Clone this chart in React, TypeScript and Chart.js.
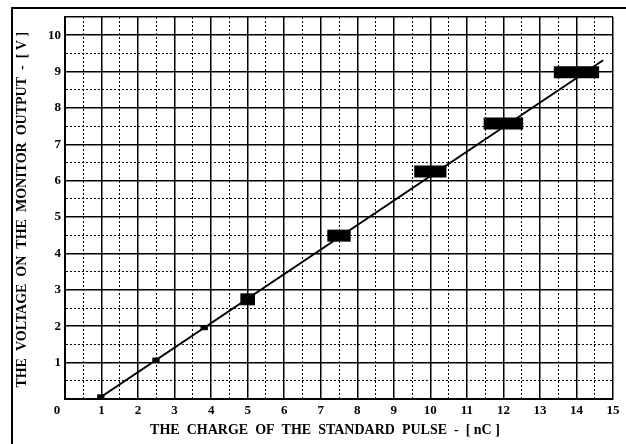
import React, { useEffect, useRef } from "react";
import { Chart, registerables } from "chart.js";

Chart.register(...registerables);

// Fitted calibration line (charge nC -> voltage V)
const fitX = [0.9, 14.73];
const fitY = [0, 9.31];

// Measured points drawn as black bars (centre, half-width in nC)
const barX = [5.0, 7.5, 10.0, 12.0, 14.0];
const barY = [2.74, 4.49, 6.25, 7.57, 8.98];
const barHalfW = [0.2, 0.32, 0.44, 0.54, 0.62];

// Small measured markers on the line
const dotX = [0.98, 2.49, 3.81];
const dotY = [0.06, 1.07, 1.96];
const dotHalfW = [0.1, 0.1, 0.1];

const xTickLabels = ["0", "1", "2", "3", "4", "5", "6", "7", "8", "9", "10", "11", "12", "13", "14", "15"];
const yTickLabels = ["", "1", "2", "3", "4", "5", "6", "7", "8", "9", "10"];

const xTitle = "THE  CHARGE  OF  THE  STANDARD  PULSE  -  [ nC ]";
const yTitle = "THE  VOLTAGE  ON  THE  MONITOR  OUTPUT  -  [ V ]";

const FONT = "'Liberation Serif', 'Times New Roman', serif";
const PAD = "\u00a0";

export default function App() {
  const ref = useRef<HTMLCanvasElement | null>(null);

  useEffect(() => {
    if (!ref.current) return;
    const segs = (xs: number[], ys: number[], hw: number[], width: number) =>
      xs.map((x, i) => ({
        data: [
          { x: x - hw[i], y: ys[i] },
          { x: x + hw[i], y: ys[i] },
        ],
        borderColor: "#000",
        backgroundColor: "#000",
        borderWidth: width,
        borderCapStyle: "butt" as const,
        pointRadius: 0,
        showLine: true,
        tension: 0,
      }));

    const isSolid = (v: number, max: number) => Number.isInteger(v) || v === max;

    const chart = new Chart(ref.current, {
      type: "scatter",
      data: {
        datasets: [
          {
            data: fitX.map((x, i) => ({ x, y: fitY[i] })),
            borderColor: "#000",
            borderWidth: 2,
            pointRadius: 0,
            showLine: true,
            tension: 0,
          },
          ...segs(barX, barY, barHalfW, 12),
          ...segs(dotX, dotY, dotHalfW, 5),
        ],
      },
      options: {
        animation: false,
        responsive: true,
        maintainAspectRatio: false,
        layout: { padding: { left: 0, top: 17, right: 13, bottom: 0 } },
        plugins: { legend: { display: false }, tooltip: { enabled: false } },
        scales: {
          x: {
            type: "linear",
            min: 0,
            max: 15,
            afterFit: (s: any) => {
              s.height = 45;
            },
            ticks: {
              stepSize: 0.5,
              autoSkip: false,
              maxRotation: 0,
              padding: 4,
              color: "#000",
              font: { family: FONT, size: 13, weight: "bold" },
              callback: (v: any) => {
                if (!Number.isInteger(v)) return "";
                const l = xTickLabels[v] ?? "";
                return v === 0 ? l + PAD.repeat(5) : l;
              },
            },
            grid: {
              drawTicks: false,
              color: "#000",
              lineWidth: (c: any) => (c.tick && isSolid(c.tick.value, 15) ? 1.5 : 1),
            },
            border: {
              display: true,
              color: "#000",
              width: 2,
              dash: (c: any) => (c.tick && !isSolid(c.tick.value, 15) ? [2, 2] : []),
            },
            title: {
              display: true,
              text: xTitle + PAD.repeat(8),
              color: "#000",
              font: { family: FONT, size: 14, weight: "bold" },
              padding: { top: 0, bottom: 5 },
            },
          },
          y: {
            type: "linear",
            min: 0,
            max: 10.5,
            afterFit: (s: any) => {
              s.width = 65;
            },
            ticks: {
              stepSize: 0.5,
              autoSkip: false,
              padding: 4,
              color: "#000",
              font: { family: FONT, size: 13, weight: "bold" },
              callback: (v: any) => (Number.isInteger(v) ? yTickLabels[v] ?? "" : ""),
            },
            grid: {
              drawTicks: false,
              color: "#000",
              lineWidth: (c: any) => (c.tick && isSolid(c.tick.value, 10.5) ? 1.5 : 1),
            },
            border: {
              display: true,
              color: "#000",
              width: 2,
              dash: (c: any) => (c.tick && !isSolid(c.tick.value, 10.5) ? [2, 2] : []),
            },
            title: {
              display: true,
              text: yTitle + PAD,
              color: "#000",
              font: { family: FONT, size: 14, weight: "bold" },
              padding: { top: 14, bottom: 0 },
            },
          },
        },
      },
    });
    return () => chart.destroy();
  }, []);

  return (
    <div style={{ position: "absolute", left: 0, top: 0, width: 626, height: 444, background: "#fff" }}>
      <canvas ref={ref} />
      <div
        style={{
          position: "absolute",
          left: 11,
          top: 7,
          right: 0,
          bottom: 0,
          borderTop: "2px solid #000",
          borderLeft: "2px solid #000",
          pointerEvents: "none",
        }}
      />
    </div>
  );
}
